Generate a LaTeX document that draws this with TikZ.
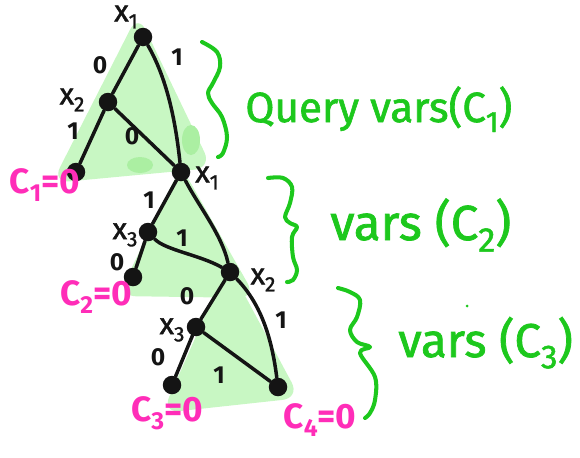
\documentclass[tikz,border=0pt]{standalone}
\usepackage{fontspec}
\setmainfont{Fira Sans}
\newfontfamily\hand[FakeBold=1.5]{Fira Sans}
\definecolor{trifill}{HTML}{C8F7C3}
\definecolor{tridark}{HTML}{ABEFA2}
\definecolor{brc}{HTML}{1DC81D}
\definecolor{mag}{HTML}{FF2DB8}
\definecolor{ink}{HTML}{141414}
\newcommand\lo[1]{\raisebox{-0.45ex}{\scalebox{0.7}{#1}}}
\begin{document}
\begin{tikzpicture}[x=0.02cm,y=-0.02cm,
  vtx/.style={circle,fill=ink,minimum size=0.37cm,inner sep=0},
  link/.style={draw=ink,line width=2pt,line cap=round},
  bitlab/.style={text=ink,font=\fontsize{14}{14}\selectfont\bfseries,inner sep=0},
  varlab/.style={text=ink,font=\hand\fontsize{17}{17}\selectfont,inner sep=0},
  cval/.style={text=mag,font=\fontsize{20}{20}\selectfont\bfseries,inner sep=0},
  varstext/.style={text=brc,inner sep=0,anchor=base west},
  bracestroke/.style={draw=brc,line width=2.3pt,line cap=round,line join=round},
  trishape/.style={fill=trifill,rounded corners=10pt}]
\useasboundingbox (0,0) rectangle (580,457);
% green triangles
\fill[trishape] (138,14) -- (212,168) -- (52,183) -- cycle;
\fill[trishape] (181,166) -- (256,298) -- (118,296) -- cycle;
\fill[trishape] (228,264) -- (300,398) -- (162,413) -- cycle;
\fill[tridark] (140,165) ellipse (13 and 8);
\fill[tridark] (191,140) ellipse (9 and 15);
% vertices
\node[vtx] (a) at (143,37) {};
\node[vtx] (b) at (108,102) {};
\node[vtx] (l1) at (76,172) {};
\node[vtx] (c) at (181,172) {};
\node[vtx] (d) at (148,232) {};
\node[vtx] (l2) at (133,277) {};
\node[vtx] (e) at (230,272) {};
\node[vtx] (f) at (196,327) {};
\node[vtx] (l3) at (172,385) {};
\node[vtx] (l4) at (278,387) {};
% edges
\draw[link] (a) -- (b);
\draw[link] (a) .. controls (168,80) and (176,125) .. (c);
\draw[link] (b) -- (l1);
\draw[link] (b) -- (c);
\draw[link] (c) -- (d);
\draw[link] (c) .. controls (198,205) and (222,235) .. (e);
\draw[link] (d) -- (l2);
\draw[link] (d) .. controls (165,250) and (200,255) .. (e);
\draw[link] (e) -- (f);
\draw[link] (e) .. controls (262,305) and (272,340) .. (l4);
\draw[link] (f) -- (l3);
\draw[link] (f) -- (l4);
% edge labels
\node[bitlab] (b1) at (100,65) {0};
\node[bitlab] (b2) at (177,57) {1};
\node[bitlab] (b3) at (73,131) {1};
\node[bitlab] (b4) at (132,136) {0};
\node[bitlab] (b5) at (149,200) {1};
\node[bitlab] (b6) at (182,238) {1};
\node[bitlab] (b7) at (117,262) {0};
\node[bitlab] (b8) at (187,296) {0};
\node[bitlab] (b9) at (281,320) {1};
\node[bitlab] (b10) at (158,357) {0};
\node[bitlab] (b11) at (219,375) {1};
% variable labels
\node[varlab] (ta) at (126,17) {x\lo{1}};
\node[varlab] (tb) at (72,100) {x\lo{2}};
\node[varlab] (tc) at (207,178) {x\lo{1}};
\node[varlab] (td) at (125,235) {x\lo{3}};
\node[varlab] (te) at (263,280) {x\lo{2}};
\node[varlab] (tf) at (172,330) {x\lo{3}};
% leaf values
\node[cval] (c1) at (45,185) {C\lo{1}=0};
\node[cval] (c2) at (96,297) {C\lo{2}=0};
\node[cval] (c3) at (167,413) {C\lo{3}=0};
\node[cval] (c4) at (320,420) {C\lo{4}=0};
% braces
\draw[bracestroke] plot[smooth,tension=0.6] coordinates {(202,42) (217,52) (220,67) (213,83) (208,93) (212,103) (222,117) (227,137) (223,153) (218,157)};
\draw[bracestroke] plot[smooth,tension=0.6] coordinates {(268,178) (283,178) (292,187) (290,203) (285,217) (290,223) (297,227) (292,237) (293,257) (297,270) (293,280) (287,282)};
\draw[bracestroke] plot[smooth,tension=0.6] coordinates {(338,288) (350,292) (360,300) (357,317) (350,330) (357,342) (370,347) (360,353) (375,377) (375,400) (370,413) (365,418)};
\fill[brc] (467,306) circle (1.5);
% brace texts
\node[varstext,font=\hand\fontsize{24}{24}\selectfont] (q1) at (245,122) {Query vars(C\lo{1})};
\node[varstext,font=\hand\fontsize{28}{28}\selectfont] (q2) at (330,240) {vars (C\lo{2})};
\node[varstext,font=\hand\fontsize{27}{27}\selectfont] (q3) at (398,357) {vars (C\lo{3})};
\end{tikzpicture}
\end{document}
